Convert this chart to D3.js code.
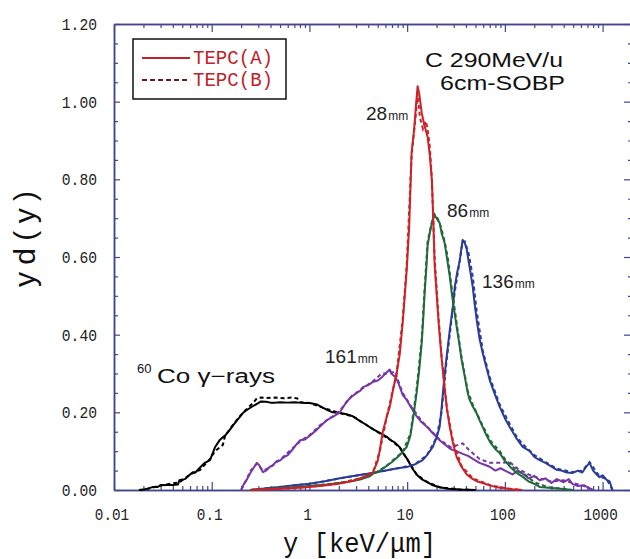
<!DOCTYPE html>
<html><head><meta charset="utf-8">
<script src="https://cdn.jsdelivr.net/npm/d3@7"></script>
<style>body{margin:0;background:#fff} svg{display:block}</style>
</head><body><svg id="c" width="630" height="559"></svg>
<script>
// ---------- data ----------
const xTickValues = [0.01, 0.1, 1, 10, 100, 1000];
const xTickLabels = ["0.01", "0.1", "1", "10", "100", "1000"];
const yTickValues = [0, 0.2, 0.4, 0.6, 0.8, 1.0, 1.2];
const yTickLabels = ["0.00", "0.20", "0.40", "0.60", "0.80", "1.00", "1.20"];
const legendLabels = ["TEPC(A)", "TEPC(B)"];

// 60Co gamma-rays  [y (keV/um), yd(y)]
const co60A = [[0.018,0],[0.0193,0],[0.022,0.003],[0.025,0.008],[0.028,0.008],[0.03,0.012],[0.035,0.013],[0.04,0.013],[0.045,0.014],[0.047,0.026],[0.053,0.028],[0.06,0.04],[0.064,0.046],[0.068,0.045],[0.076,0.058],[0.085,0.07],[0.09,0.073],[0.096,0.077],[0.108,0.11],[0.121,0.129],[0.13,0.136],[0.137,0.14],[0.153,0.155],[0.17,0.17],[0.194,0.188],[0.21,0.199],[0.229,0.206],[0.26,0.215],[0.29,0.222],[0.32,0.228],[0.36,0.227],[0.4,0.225],[0.45,0.225],[0.5,0.226],[0.6,0.225],[0.7,0.226],[0.8,0.225],[0.9,0.224],[1.0,0.224],[1.1,0.222],[1.2,0.22],[1.37,0.212],[1.55,0.205],[1.73,0.2],[2.05,0.198],[2.4,0.195],[2.78,0.19],[3.27,0.178],[3.8,0.168],[4.45,0.157],[5.2,0.148],[6.2,0.137],[6.64,0.13],[7.5,0.122],[8.4,0.11],[9.0,0.096],[10,0.08],[11.4,0.054],[12.5,0.04],[14,0.028],[15.9,0.021],[18,0.013],[21.5,0.007],[26,0.003],[35,0.001],[50,0]];
const co60B = [[0.018,0],[0.022,0.003],[0.03,0.012],[0.047,0.02],[0.06,0.04],[0.076,0.052],[0.096,0.08],[0.108,0.1],[0.13,0.116],[0.137,0.14],[0.17,0.172],[0.21,0.2],[0.26,0.222],[0.29,0.236],[0.32,0.238],[0.36,0.237],[0.45,0.238],[0.55,0.236],[0.65,0.238],[0.75,0.236],[0.8,0.226],[1.0,0.224],[1.37,0.212],[2.05,0.198],[2.78,0.19],[4.45,0.157],[6.64,0.13],[8.4,0.11],[10,0.08],[12.5,0.04],[15.9,0.021],[21.5,0.007],[35,0.001],[50,0]];

// 28 mm
const d28A = [[0.25,0],[0.4,0.002],[0.6,0.004],[1.0,0.008],[1.5,0.012],[2.0,0.016],[2.8,0.024],[3.5,0.032],[4.45,0.044],[5.0,0.075],[5.25,0.103],[5.63,0.15],[6.2,0.19],[6.64,0.214],[7.2,0.26],[7.8,0.3],[8.4,0.35],[9.0,0.43],[9.9,0.567],[10.5,0.68],[11.1,0.868],[11.8,0.93],[12.3,0.99],[12.8,1.04],[13.3,1.02],[14.1,0.971],[15,0.94],[16.2,0.909],[17.1,0.86],[17.9,0.798],[18.5,0.7],[19.1,0.58],[20.1,0.5],[21,0.43],[22.6,0.335],[24,0.27],[25.5,0.21],[27.3,0.162],[29.5,0.12],[32.1,0.085],[36,0.06],[40.7,0.04],[47,0.028],[52,0.022],[59.3,0.018],[70,0.012],[80,0.008],[90,0.006],[104,0.004],[120,0.002],[150,0]];
const d28B = [[0.25,0],[1.0,0.008],[2.0,0.016],[3.5,0.032],[4.45,0.044],[5.25,0.1],[6.2,0.19],[7.8,0.3],[9.0,0.44],[9.9,0.58],[11.1,0.86],[12.3,0.97],[12.8,1.02],[13.5,0.96],[14.5,0.93],[15.5,0.95],[16.2,0.93],[17.1,0.88],[17.9,0.8],[19.1,0.6],[21,0.44],[22.6,0.34],[25.5,0.21],[29.5,0.125],[36,0.062],[47,0.03],[70,0.013],[104,0.004],[150,0]];

// 86 mm
const d86A = [[0.25,0],[0.4,0.003],[0.6,0.006],[1.0,0.01],[1.5,0.014],[2.0,0.018],[2.5,0.021],[3.3,0.027],[4.0,0.034],[4.6,0.044],[5.3,0.05],[6.0,0.06],[7.0,0.072],[8.0,0.085],[9.0,0.098],[9.9,0.111],[10.8,0.14],[11.6,0.19],[12.5,0.25],[13.3,0.31],[14.1,0.379],[14.6,0.44],[15.1,0.507],[15.7,0.57],[16.2,0.63],[17,0.66],[17.9,0.688],[18.5,0.7],[19.1,0.708],[20,0.7],[21.5,0.688],[22.6,0.66],[24.2,0.636],[26,0.585],[27.3,0.55],[28.6,0.507],[30,0.47],[32.1,0.42],[34,0.38],[36.1,0.335],[39,0.29],[41.7,0.25],[43.6,0.232],[47,0.215],[51.5,0.197],[55,0.18],[59.3,0.162],[65,0.14],[72,0.12],[80,0.105],[88.5,0.095],[100,0.075],[115,0.058],[132,0.044],[150,0.035],[175,0.022],[200,0.016],[227,0.008],[280,0.006],[350,0.004],[494,0]];
const d86B = [[0.25,0],[1.0,0.01],[2.0,0.018],[4.0,0.034],[6.0,0.06],[9.0,0.098],[10.8,0.145],[12.5,0.26],[14.1,0.39],[15.1,0.52],[16.2,0.64],[17.9,0.69],[19.1,0.71],[20.5,0.7],[22,0.68],[24.2,0.64],[26,0.6],[28.6,0.52],[32.1,0.43],[36.1,0.34],[41.7,0.255],[47,0.22],[59.3,0.165],[72,0.125],[88.5,0.1],[100,0.08],[132,0.05],[160,0.04],[200,0.02],[280,0.007],[494,0]];

// 136 mm
const d136A = [[0.25,0],[0.35,0.004],[0.5,0.008],[0.7,0.012],[1.0,0.016],[1.4,0.022],[2.05,0.03],[2.8,0.036],[3.5,0.04],[4.45,0.044],[5.5,0.048],[6.6,0.052],[8,0.056],[9.9,0.059],[12,0.066],[14.4,0.077],[16,0.09],[18.3,0.111],[20,0.135],[21.5,0.162],[22.5,0.21],[23.5,0.265],[25,0.33],[27.3,0.412],[29.3,0.47],[30.7,0.523],[32.5,0.56],[34.5,0.59],[36,0.625],[37,0.644],[39,0.635],[40.7,0.62],[42.5,0.59],[44.5,0.56],[46.9,0.523],[49,0.48],[51.5,0.438],[55,0.39],[59.3,0.353],[64,0.32],[70,0.283],[78,0.25],[88.5,0.214],[100,0.185],[112,0.162],[130,0.135],[152,0.111],[180,0.1],[200,0.085],[227,0.077],[260,0.07],[300,0.06],[339,0.052],[380,0.05],[430,0.045],[494,0.044],[560,0.05],[620,0.045],[680,0.06],[736,0.07],[800,0.05],[870,0.04],[931,0.033],[1000,0.038],[1100,0.026],[1180,0.022],[1265,0]];
const d136B = [[0.25,0],[1.0,0.016],[2.05,0.03],[4.45,0.044],[8,0.056],[12,0.066],[16,0.09],[20,0.135],[22.5,0.2],[25,0.32],[27.3,0.4],[30.7,0.51],[34.5,0.59],[37,0.64],[39,0.64],[42.5,0.61],[46.9,0.55],[51.5,0.46],[59.3,0.36],[70,0.29],[88.5,0.22],[112,0.17],[130,0.14],[152,0.118],[200,0.09],[260,0.072],[339,0.055],[494,0.046],[620,0.05],[736,0.072],[931,0.035],[1100,0.028],[1265,0]];

// 161 mm
const d161A = [[0.2,0],[0.21,0.012],[0.23,0.028],[0.25,0.045],[0.27,0.058],[0.29,0.07],[0.31,0.062],[0.334,0.046],[0.36,0.05],[0.394,0.06],[0.42,0.063],[0.464,0.075],[0.5,0.076],[0.55,0.085],[0.6,0.09],[0.676,0.105],[0.75,0.12],[0.8,0.128],[0.9,0.13],[1.01,0.14],[1.15,0.152],[1.3,0.165],[1.51,0.18],[1.73,0.188],[2.05,0.2],[2.41,0.228],[2.7,0.24],[3.05,0.25],[3.3,0.255],[3.52,0.265],[4.0,0.27],[4.45,0.278],[5.0,0.282],[5.5,0.29],[6.0,0.3],[6.64,0.31],[7.0,0.298],[7.5,0.292],[8.0,0.28],[8.5,0.262],[9.0,0.245],[9.9,0.232],[11,0.212],[12.5,0.19],[14,0.175],[15.9,0.163],[18,0.148],[21.5,0.128],[25,0.115],[28,0.105],[32,0.1],[37,0.093],[42,0.088],[47,0.08],[55,0.07],[62,0.065],[70,0.06],[80,0.05],[90,0.056],[104,0.048],[120,0.04],[135,0.05],[152,0.042],[175,0.03],[200,0.036],[227,0.025],[260,0.03],[300,0.018],[340,0.028],[400,0.02],[450,0.028],[494,0.015],[560,0.01],[650,0.012],[736,0.004],[800,0]];
const d161B = [[0.2,0],[0.23,0.03],[0.25,0.05],[0.29,0.068],[0.334,0.05],[0.394,0.058],[0.5,0.078],[0.676,0.108],[0.8,0.125],[1.01,0.142],[1.3,0.168],[1.73,0.19],[2.05,0.205],[2.7,0.242],[3.52,0.262],[4.45,0.28],[5.5,0.3],[6.64,0.3],[7.5,0.305],[8.0,0.285],[9.0,0.25],[11,0.215],[14,0.178],[18,0.15],[21.5,0.13],[28,0.11],[37,0.12],[43,0.103],[55,0.08],[70,0.07],[95,0.07],[112,0.072],[135,0.055],[175,0.04],[227,0.03],[300,0.022],[400,0.025],[494,0.018],[650,0.01],[800,0]];

const seriesList = [
  {name: "60Co", A: co60A, B: co60B, color: "#000000"},
  {name: "161mm", A: d161A, B: d161B, color: "#7636a6"},
  {name: "136mm", A: d136A, B: d136B, color: "#2a3c98"},
  {name: "86mm", A: d86A, B: d86B, color: "#21683a"},
  {name: "28mm", A: d28A, B: d28B, color: "#cc2128"}
];

// ---------- chart ----------
const svg = d3.select("#c");
const x = d3.scaleLog().domain([0.01, 2000]).range([114, 632]);
const y = d3.scaleLinear().domain([0, 1.2]).range([490, 24]);
const axisColor = "#45458c";
const monoFont = "'Liberation Mono','DejaVu Sans Mono',monospace";
const sans = "'Liberation Sans',Arial,sans-serif";

// minor tick values
const xMinor = [];
for (let e = -2; e <= 3; e++) for (let m = 2; m <= 9; m++) { const v = m * Math.pow(10, e); if (v <= 2000) xMinor.push(v); }
const yMinor = d3.range(0, 1.2001, 0.05).filter(v => Math.abs(v / 0.2 - Math.round(v / 0.2)) > 1e-6);

function styleAxis(g) {
  g.select(".domain").attr("stroke", axisColor).attr("stroke-width", 1.5);
  g.selectAll(".tick line").attr("stroke", axisColor).attr("stroke-width", 1.2);
  g.selectAll("text").remove();
}
// bottom
svg.append("g").attr("transform", "translate(0,490)")
  .call(d3.axisBottom(x).tickValues(xMinor).tickSize(-4).tickSizeOuter(0).tickFormat("")).call(styleAxis);
svg.append("g").attr("transform", "translate(0,490)")
  .call(d3.axisBottom(x).tickValues(xTickValues).tickSize(-8).tickSizeOuter(0).tickFormat("")).call(styleAxis);
// top
svg.append("g").attr("transform", "translate(0,24)")
  .call(d3.axisTop(x).tickValues(xMinor).tickSize(-4).tickSizeOuter(0).tickFormat("")).call(styleAxis);
svg.append("g").attr("transform", "translate(0,24)")
  .call(d3.axisTop(x).tickValues(xTickValues).tickSize(-8).tickSizeOuter(0).tickFormat("")).call(styleAxis);
// left
svg.append("g").attr("transform", "translate(114,0)")
  .call(d3.axisLeft(y).tickValues(yMinor).tickSize(-4).tickSizeOuter(0).tickFormat("")).call(styleAxis);
svg.append("g").attr("transform", "translate(114,0)")
  .call(d3.axisLeft(y).tickValues(yTickValues).tickSize(-6).tickSizeOuter(0).tickFormat("")).call(styleAxis);
// right
svg.append("g").attr("transform", "translate(632,0)")
  .call(d3.axisRight(y).tickValues(yMinor).tickSize(-4).tickSizeOuter(0).tickFormat("")).call(styleAxis);
svg.append("g").attr("transform", "translate(632,0)")
  .call(d3.axisRight(y).tickValues(yTickValues).tickSize(-8).tickSizeOuter(0).tickFormat("")).call(styleAxis);

// tick labels
svg.append("g").selectAll("text").data(xTickValues).join("text")
  .attr("x", d => x(d) - 2).attr("y", 520)
  .attr("text-anchor", "middle")
  .attr("font-family", monoFont).attr("font-size", 17).attr("fill", "#222")
  .attr("textLength", (d, i) => xTickLabels[i].length * 8.6).attr("lengthAdjust", "spacingAndGlyphs")
  .text((d, i) => xTickLabels[i]);
svg.append("g").selectAll("text").data(yTickValues).join("text")
  .attr("x", 97).attr("y", d => y(d) + 6)
  .attr("text-anchor", "end")
  .attr("font-family", monoFont).attr("font-size", 17).attr("fill", "#222")
  .attr("textLength", (d, i) => yTickLabels[i].length * 8.8).attr("lengthAdjust", "spacingAndGlyphs")
  .text((d, i) => yTickLabels[i]);

// axis titles
svg.append("text").attr("transform", "translate(35,239) rotate(-90)")
  .attr("text-anchor", "middle").attr("font-family", sans).attr("font-size", 30).attr("fill", "#111")
  .attr("textLength", 96).attr("lengthAdjust", "spacing").text("yd(y)");
svg.append("text").attr("x", 283).attr("y", 552)
  .attr("font-family", monoFont).attr("font-size", 28).attr("fill", "#111")
  .attr("textLength", 153).attr("lengthAdjust", "spacingAndGlyphs").text("y [keV/μm]");

// curves
const line = d3.line().x(d => x(d[0])).y(d => y(d[1]));
const plot = svg.append("g");
seriesList.forEach(s => {
  plot.append("path").datum(s.B).attr("d", line).attr("fill", "none")
    .attr("stroke", s.color).attr("stroke-width", 2).attr("stroke-dasharray", "4,3");
  plot.append("path").datum(s.A).attr("d", line).attr("fill", "none")
    .attr("stroke", s.color).attr("stroke-width", 2).attr("stroke-linejoin", "round");
});

// legend
const lg = svg.append("g");
lg.append("rect").attr("x", 133).attr("y", 39).attr("width", 153).attr("height", 60)
  .attr("fill", "#fff").attr("stroke", "#111").attr("stroke-width", 1.5);
lg.append("line").attr("x1", 142).attr("x2", 190).attr("y1", 58).attr("y2", 58)
  .attr("stroke", "#c0222a").attr("stroke-width", 2);
lg.append("line").attr("x1", 142).attr("x2", 190).attr("y1", 80).attr("y2", 80)
  .attr("stroke", "#7a1616").attr("stroke-width", 2).attr("stroke-dasharray", "5,3");
legendLabels.forEach((t, i) => {
  lg.append("text").attr("x", 193).attr("y", 64 + i * 22)
    .attr("font-family", monoFont).attr("font-size", 21).attr("fill", "#c0222a")
    .attr("textLength", 80).attr("lengthAdjust", "spacingAndGlyphs").text(t);
});

// annotations
svg.append("text").attr("x", 425).attr("y", 67).attr("font-family", sans).attr("font-size", 21)
  .attr("fill", "#111").attr("textLength", 138).attr("lengthAdjust", "spacingAndGlyphs").text("C 290MeV/u");
svg.append("text").attr("x", 440).attr("y", 90).attr("font-family", sans).attr("font-size", 21)
  .attr("fill", "#111").attr("textLength", 125).attr("lengthAdjust", "spacingAndGlyphs").text("6cm-SOBP");

const depthLabels = [
  {t: "28", x: 366, y: 120},
  {t: "86", x: 447, y: 217},
  {t: "136", x: 482, y: 288},
  {t: "161", x: 325, y: 363}
];
depthLabels.forEach(d => {
  const w = d.t.length * 10.6;
  svg.append("text").attr("x", d.x).attr("y", d.y).attr("fill", "#222")
    .attr("font-family", sans).attr("font-size", 19).text(d.t);
  svg.append("text").attr("x", d.x + w + 1).attr("y", d.y).attr("fill", "#222")
    .attr("font-family", sans).attr("font-size", 12).text("mm");
});

svg.append("text").attr("x", 137).attr("y", 373).attr("font-family", sans).attr("font-size", 13)
  .attr("fill", "#111").text("60");
svg.append("text").attr("x", 157).attr("y", 383).attr("font-family", sans).attr("font-size", 20)
  .attr("fill", "#111").attr("textLength", 118).attr("lengthAdjust", "spacingAndGlyphs").text("Co γ−rays");
</script></body></html>
